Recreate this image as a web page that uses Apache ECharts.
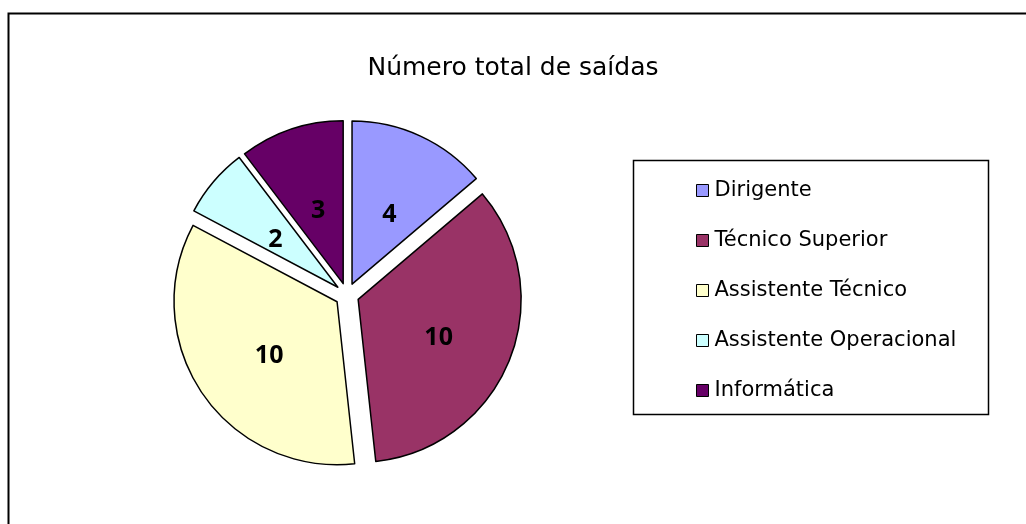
<!DOCTYPE html>
<html>
<head>
<meta charset="utf-8">
<script src="https://cdn.jsdelivr.net/npm/echarts@6/dist/echarts.min.js"></script>
<style>
  html, body { margin: 0; padding: 0; background: #fff; }
  #chart { width: 1026px; height: 524px; }
</style>
</head>
<body>
<div id="chart"></div>
<script>
// data
var categories = ['Dirigente', 'Técnico Superior', 'Assistente Técnico', 'Assistente Operacional', 'Informática'];
var values = [4, 10, 10, 2, 3];
var colors = ['#9999FF', '#993366', '#FFFFCC', '#CCFFFF', '#660066'];

var chart = echarts.init(document.getElementById('chart'), null, { renderer: 'canvas' });

var pieData = [];
for (var i = 0; i < categories.length; i++) {
  pieData.push({
    name: categories[i],
    value: values[i],
    selected: true,
    itemStyle: { color: colors[i] }
  });
}

var option = {
  animation: false,
  backgroundColor: '#fff',
  title: {
    text: 'Número total de saídas',
    left: 'center',
    top: 51,
    textStyle: {
      fontFamily: 'DejaVu Sans',
      fontSize: 25,
      fontWeight: 'normal',
      color: '#000'
    }
  },
  graphic: [
    {
      // outer chart border
      type: 'rect',
      shape: { x: 8.5, y: 13.5, width: 1030, height: 530 },
      style: { fill: 'none', stroke: '#000', lineWidth: 2 },
      silent: true
    },
    {
      // legend box
      type: 'rect',
      shape: { x: 633.5, y: 160.5, width: 355, height: 254 },
      style: { fill: 'none', stroke: '#000', lineWidth: 1.5 },
      silent: true
    }
  ],
  legend: {
    orient: 'vertical',
    left: 691,
    top: 175,
    itemGap: 29,
    itemWidth: 12,
    itemHeight: 12,
    icon: 'rect',
    selectedMode: false,
    itemStyle: { borderColor: '#000', borderWidth: 1 },
    textStyle: {
      fontFamily: 'DejaVu Sans',
      fontSize: 21,
      lineHeight: 21,
      padding: [0, 0, 0, 1],
      color: '#000'
    },
    data: categories
  },
  series: [{
    type: 'pie',
    center: [347, 295],
    radius: 163,
    startAngle: 90,
    clockwise: true,
    selectedMode: 'multiple',
    selectedOffset: 12,
    emphasis: { disabled: true },
    itemStyle: { borderColor: '#000', borderWidth: 1.5 },
    label: {
      show: true,
      position: 'inside',
      // leading blank line nudges the number a little lower, like the original
      formatter: '\n{c}',
      lineHeight: 14,
      padding: [0, 0, 0, 4],
      fontFamily: 'Open Sans',
      fontSize: 25,
      fontWeight: 'bold',
      color: '#000'
    },
    labelLine: { show: false },
    data: pieData
  }]
};

chart.setOption(option);
</script>
</body>
</html>
